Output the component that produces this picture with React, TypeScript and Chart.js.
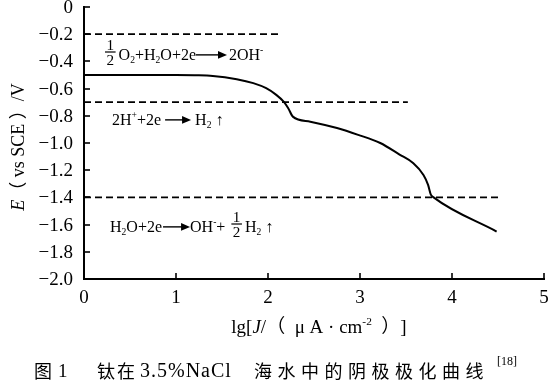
import React, { useEffect, useRef } from "react";
import { Chart, registerables } from "chart.js";

Chart.register(...registerables);

// ---- data ----
const curveX = [0, 0.5, 1.0, 1.2, 1.4, 1.66, 1.84, 1.98, 2.09, 2.17, 2.22, 2.27, 2.46, 2.75, 2.98, 3.22, 3.43, 3.58, 3.69, 3.74, 3.77, 3.8, 4.485];
const curveY = [-0.5, -0.5, -0.5, -0.502, -0.507, -0.531, -0.56, -0.597, -0.646, -0.696, -0.744, -0.806, -0.843, -0.89, -0.94, -1.0, -1.085, -1.149, -1.235, -1.308, -1.38, -1.4, -1.651];
const limitLevels = [-0.2, -0.7, -1.4];
const limitEnds = [2.15, 3.52, 4.5];
const xTicks = [0, 1, 2, 3, 4, 5];
const xTickLabels = ["0", "1", "2", "3", "4", "5"];
const yTicks = [0, -0.2, -0.4, -0.6, -0.8, -1.0, -1.2, -1.4, -1.6, -1.8, -2.0];
const yTickLabels = ["0", "\u22120.2", "\u22120.4", "\u22120.6", "\u22120.8", "\u22121.0", "\u22121.2", "\u22121.4", "\u22121.6", "\u22121.8", "\u22122.0"];
const captionText = ["图", "1", "钛在", "3.5%NaCl", "海水中的阴极极化曲线", "[18]"];

const SERIF = '"Liberation Serif", "Times New Roman", "Noto Sans CJK SC", serif';
const CJK = '"Noto Sans CJK SC", sans-serif';

type Part = { t?: string; k?: "i" | "sub" | "sup" | "frac" | "arrow" | "sp"; w?: number };

function drawRich(ctx: CanvasRenderingContext2D, x: number, y: number, parts: Part[], size: number, dry = false): number {
  let cx = x;
  ctx.textBaseline = "alphabetic";
  ctx.textAlign = "left";
  for (const p of parts) {
    const k = p.k;
    if (k === "sp") {
      cx += p.w || 0;
      continue;
    }
    if (k === "arrow") {
      const len = p.w || 30;
      const ay = y - size * 0.32;
      if (!dry) {
        ctx.beginPath();
        ctx.lineWidth = 1.4;
        ctx.moveTo(cx, ay);
        ctx.lineTo(cx + len - 6, ay);
        ctx.stroke();
        ctx.beginPath();
        ctx.moveTo(cx + len, ay);
        ctx.lineTo(cx + len - 9, ay - 3.8);
        ctx.lineTo(cx + len - 9, ay + 3.8);
        ctx.closePath();
        ctx.fill();
      }
      cx += len;
      continue;
    }
    if (k === "frac") {
      const fs = size * 0.95;
      ctx.font = `${fs}px ${SERIF}`;
      const [n, d] = (p.t || "1/2").split("/");
      const w = Math.max(ctx.measureText(n).width, ctx.measureText(d).width) + 3;
      const by = y - size * 0.5;
      if (!dry) {
        ctx.textAlign = "center";
        ctx.fillText(n, cx + w / 2, by - 2);
        ctx.textBaseline = "top";
        ctx.fillText(d, cx + w / 2, by + 1.5);
        ctx.textBaseline = "alphabetic";
        ctx.textAlign = "left";
        ctx.fillRect(cx, by - 0.6, w, 1.2);
      }
      cx += w + 3;
      continue;
    }
    let fs = size;
    let dy = 0;
    let style = "";
    if (k === "sub") {
      fs = size * 0.6;
      dy = size * 0.18;
    }
    if (k === "sup") {
      fs = size * 0.6;
      dy = -size * 0.42;
    }
    if (k === "i") style = "italic ";
    ctx.font = `${style}${fs}px ${SERIF}`;
    if (!dry) ctx.fillText(p.t || "", cx, y + dy);
    cx += ctx.measureText(p.t || "").width;
  }
  return cx;
}

const annotPlugin = {
  id: "annot",
  afterDraw(chart: any) {
    const ctx: CanvasRenderingContext2D = chart.ctx;
    const xs = chart.scales.x;
    const ys = chart.scales.y;
    const { left, bottom } = chart.chartArea;
    ctx.save();
    ctx.fillStyle = "#000";
    ctx.strokeStyle = "#000";

    // inward ticks + tick labels
    ctx.lineWidth = 1.6;
    ctx.font = `19px ${SERIF}`;
    yTicks.forEach((v, i) => {
      const py = Math.round(ys.getPixelForValue(v));
      ctx.beginPath();
      ctx.moveTo(left, py);
      ctx.lineTo(left + 6, py);
      ctx.stroke();
      ctx.textAlign = "right";
      ctx.textBaseline = "middle";
      ctx.fillText(yTickLabels[i], left - 11, py + 1);
    });
    xTicks.forEach((v, i) => {
      const px = Math.round(xs.getPixelForValue(v));
      ctx.beginPath();
      ctx.moveTo(px, bottom);
      ctx.lineTo(px, bottom - 6);
      ctx.stroke();
      ctx.textAlign = "center";
      ctx.textBaseline = "middle";
      ctx.fillText(xTickLabels[i], px, bottom + 19);
    });

    // axis titles
    const xTitle: Part[] = [
      { t: "lg[" },
      { t: "J", k: "i" },
      { t: "/（  " },
      { t: "μ A · cm" },
      { t: "-2", k: "sup" },
      { t: "  ）]" },
    ];
    const xw = drawRich(ctx, 0, 0, xTitle, 19, true);
    drawRich(ctx, 319 - xw / 2, 333, xTitle, 19);

    const yTitle: Part[] = [
      { t: "E", k: "i" },
      { t: "（ vs SCE ）/V" },
    ];
    ctx.save();
    ctx.translate(24, 147);
    ctx.rotate(-Math.PI / 2);
    const yw = drawRich(ctx, 0, 0, yTitle, 18, true);
    drawRich(ctx, -yw / 2, 0, yTitle, 18);
    ctx.restore();

    // reaction annotations
    drawRich(ctx, 105, 60, [
      { t: "1/2", k: "frac" },
      { t: "O" }, { t: "2", k: "sub" }, { t: "+H" }, { t: "2", k: "sub" }, { t: "O+2e" },
      { k: "arrow", w: 31 }, { k: "sp", w: 2 },
      { t: "2OH" }, { t: "-", k: "sup" },
    ], 16);
    drawRich(ctx, 112, 125, [
      { t: "2H" }, { t: "+", k: "sup" }, { t: "+2e" }, { k: "sp", w: 4 },
      { k: "arrow", w: 26 }, { k: "sp", w: 4 },
      { t: "H" }, { t: "2", k: "sub" }, { k: "sp", w: 4 }, { t: "↑" },
    ], 16);
    drawRich(ctx, 110, 232, [
      { t: "H" }, { t: "2", k: "sub" }, { t: "O+2e" }, { k: "sp", w: 1 },
      { k: "arrow", w: 27 },
      { t: "OH" }, { t: "-", k: "sup" }, { t: "+" }, { k: "sp", w: 6 },
      { t: "1/2", k: "frac" },
      { t: "H" }, { t: "2", k: "sub" }, { k: "sp", w: 4 }, { t: "↑" },
    ], 16);

    // caption
    ctx.textBaseline = "middle";
    ctx.textAlign = "left";
    const cy = 371;
    ctx.font = `18px ${CJK}`;
    ctx.fillText(captionText[0], 34, cy);
    ctx.font = `19px ${SERIF}`;
    ctx.fillText(captionText[1], 58, cy + 1);
    ctx.font = `18px ${CJK}`;
    (ctx as any).letterSpacing = "2px";
    ctx.fillText(captionText[2], 97, cy);
    ctx.font = `20px ${SERIF}`;
    (ctx as any).letterSpacing = "1px";
    ctx.fillText(captionText[3], 140, cy + 1);
    ctx.font = `18px ${CJK}`;
    (ctx as any).letterSpacing = "5.5px";
    ctx.fillText(captionText[4], 254, cy);
    (ctx as any).letterSpacing = "0px";
    ctx.font = `12px ${SERIF}`;
    ctx.fillText(captionText[5], 497, cy - 9);
    ctx.restore();
  },
};

export default function App() {
  const ref = useRef<HTMLCanvasElement | null>(null);
  useEffect(() => {
    if (!ref.current) return;
    const chart = new Chart(ref.current, {
      type: "line",
      data: {
        datasets: [
          {
            data: curveX.map((x, i) => ({ x, y: curveY[i] })),
            borderColor: "#000",
            borderWidth: 2,
            pointRadius: 0,
            cubicInterpolationMode: "monotone",
            fill: false,
          },
          ...limitLevels.map((lv, i) => ({
            data: [
              { x: 0, y: lv },
              { x: limitEnds[i], y: lv },
            ],
            borderColor: "#000",
            borderWidth: 1.8,
            borderDash: [7, 4],
            pointRadius: 0,
            fill: false,
          })),
        ],
      },
      options: {
        animation: false,
        responsive: false,
        maintainAspectRatio: false,
        layout: { padding: { left: 84, top: 7, right: 11, bottom: 108 } },
        plugins: { legend: { display: false }, tooltip: { enabled: false } },
        scales: {
          x: {
            type: "linear",
            min: 0,
            max: 5,
            grid: { display: false },
            ticks: { display: false },
            border: { display: true, color: "#000", width: 2 },
            afterFit: (s: any) => {
              s.height = 0;
            },
          },
          y: {
            type: "linear",
            min: -2,
            max: 0,
            grid: { display: false },
            ticks: { display: false },
            border: { display: true, color: "#000", width: 2 },
            afterFit: (s: any) => {
              s.width = 0;
            },
          },
        },
      },
      plugins: [annotPlugin],
    } as any);
    return () => chart.destroy();
  }, []);
  return (
    <div style={{ position: "fixed", left: 0, top: 0, width: 555, height: 387, background: "#fff" }}>
      <canvas ref={ref} width={555} height={387} style={{ width: 555, height: 387 }} />
    </div>
  );
}
